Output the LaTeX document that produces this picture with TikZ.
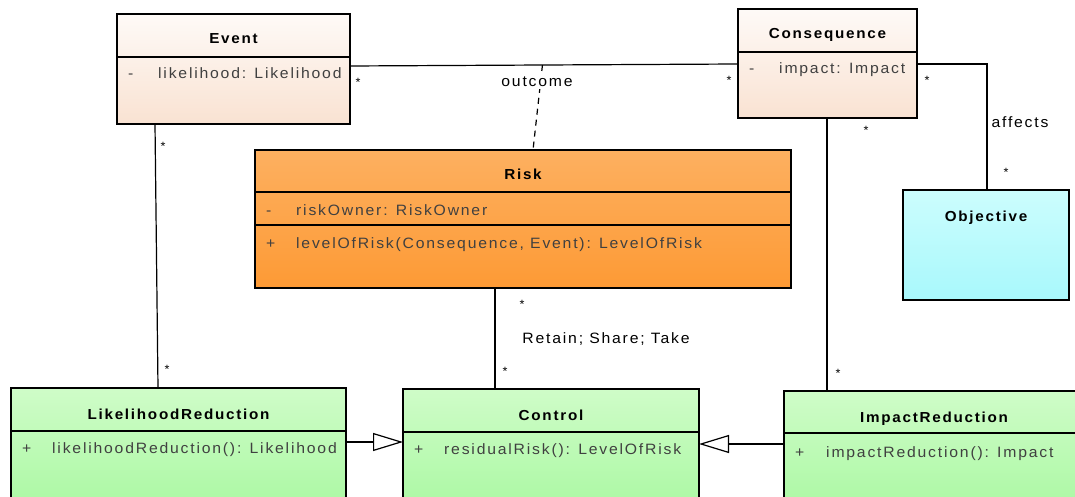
\documentclass[tikz,border=0pt]{standalone}
\usepackage{fontspec}
\setmainfont{Liberation Sans}[FakeStretch=1.05, LetterSpace=12]
\usetikzlibrary{arrows.meta,calc}

% class box fills (top / bottom of the gradient)
\definecolor{peachTop}{RGB}{254,250,247}
\definecolor{peachBot}{RGB}{249,226,210}
\definecolor{orangeTop}{RGB}{253,176,96}
\definecolor{orangeBot}{RGB}{253,154,53}
\definecolor{cyanTop}{RGB}{204,253,253}
\definecolor{cyanBot}{RGB}{168,248,252}
\definecolor{greenTop}{RGB}{207,252,200}
\definecolor{greenBot}{RGB}{168,248,160}
\definecolor{memberGray}{RGB}{64,64,64}

\begin{document}
\begin{tikzpicture}[x=1pt,y=-1pt,
  classbox/.style={draw=black, line width=1.2pt, rectangle, anchor=north west,
    inner sep=0pt, outer sep=0pt},
  peach/.style={top color=peachTop, bottom color=peachBot},
  orangefill/.style={top color=orangeTop, bottom color=orangeBot},
  cyanfill/.style={top color=cyanTop, bottom color=cyanBot},
  greenfill/.style={top color=greenTop, bottom color=greenBot},
  divider/.style={draw=black, line width=1.2pt},
  title/.style={font=\bfseries\fontsize{14.5}{16}\selectfont, anchor=base, inner sep=0pt},
  member/.style={font=\fontsize{15}{17}\selectfont, text=memberGray, anchor=base west, inner sep=0pt},
  mult/.style={font=\fontsize{12}{13}\selectfont, inner sep=0pt},
  lbl/.style={font=\fontsize{15}{17}\selectfont, inner sep=1pt},
  assoc/.style={draw=black, line width=1.2pt},
  gen/.style={draw=black, line width=1.2pt, -{Triangle[open, length=30pt, width=18pt, fill=white]}}
]
\useasboundingbox (0,0) rectangle (1075,497);
\clip (0,0) rectangle (1075,497);
\fill[white] (0,0) rectangle (1075,497);

% ---------- Event ----------
\node[classbox, peach, minimum width=233pt, minimum height=110pt] (event) at (117,14) {};
\draw[divider] ($(event.north west)+(0,43)$) -- ($(event.north east)+(0,43)$);
\node[title] (eventT) at ($(event.north)+(0,30)$) {Event};
\node[member] (eventS) at ($(event.north west)+(11,65)$) {-};
\node[member] (eventA) at ($(event.north west)+(41,65)$) {likelihood: Likelihood};

% ---------- Consequence ----------
\node[classbox, peach, minimum width=179pt, minimum height=109pt] (cons) at (738,9) {};
\draw[divider] ($(cons.north west)+(0,43)$) -- ($(cons.north east)+(0,43)$);
\node[title] (consT) at ($(cons.north)+(0,30)$) {Consequence};
\node[member] (consS) at ($(cons.north west)+(11,65)$) {-};
\node[member] (consA) at ($(cons.north west)+(41,65)$) {impact: Impact};

% ---------- Risk ----------
\node[classbox, orangefill, minimum width=536pt, minimum height=138pt] (risk) at (255,150) {};
\draw[divider] ($(risk.north west)+(0,42)$) -- ($(risk.north east)+(0,42)$);
\draw[divider] ($(risk.north west)+(0,75)$) -- ($(risk.north east)+(0,75)$);
\node[title] (riskT) at ($(risk.north)+(0,29)$) {Risk};
\node[member] (riskS) at ($(risk.north west)+(11,65)$) {-};
\node[member] (riskA) at ($(risk.north west)+(41,65)$) {riskOwner: RiskOwner};
\node[member] (riskP) at ($(risk.north west)+(11,98)$) {+};
\node[member] (riskM) at ($(risk.north west)+(41,98)$) {levelOfRisk(Consequence, Event): LevelOfRisk};

% ---------- Objective ----------
\node[classbox, cyanfill, minimum width=166pt, minimum height=110pt] (obj) at (903,190) {};
\node[title] (objT) at ($(obj.north)+(0,31)$) {Objective};

% ---------- LikelihoodReduction ----------
\node[classbox, greenfill, minimum width=335pt, minimum height=130pt] (lred) at (11,388) {};
\draw[divider] ($(lred.north west)+(0,43)$) -- ($(lred.north east)+(0,43)$);
\node[title] (lredT) at ($(lred.north)+(0,31)$) {LikelihoodReduction};
\node[member] (lredP) at ($(lred.north west)+(11,65)$) {+};
\node[member] (lredM) at ($(lred.north west)+(41,65)$) {likelihoodReduction(): Likelihood};

% ---------- Control ----------
\node[classbox, greenfill, minimum width=296pt, minimum height=130pt] (ctrl) at (403,389) {};
\draw[divider] ($(ctrl.north west)+(0,43)$) -- ($(ctrl.north east)+(0,43)$);
\node[title] (ctrlT) at ($(ctrl.north)+(0,31)$) {Control};
\node[member] (ctrlP) at ($(ctrl.north west)+(11,65)$) {+};
\node[member] (ctrlM) at ($(ctrl.north west)+(41,65)$) {residualRisk(): LevelOfRisk};

% ---------- ImpactReduction ----------
\node[classbox, greenfill, minimum width=300pt, minimum height=130pt] (ired) at (784,391) {};
\draw[divider] ($(ired.north west)+(0,42)$) -- ($(ired.north west)+(300,42)$);
\node[title] (iredT) at ($(ired.north west)+(150,31)$) {ImpactReduction};
\node[member] (iredP) at ($(ired.north west)+(11,66)$) {+};
\node[member] (iredM) at ($(ired.north west)+(42,66)$) {impactReduction(): Impact};

% ---------- Associations ----------
% Event -- Consequence, with the Risk association class hanging off it
\draw[assoc] ($(event.north east)+(0,52)$) -- coordinate[pos=0.496] (outc) ($(cons.north west)+(0,55)$);
\node[mult] (m1) at ($(event.north east)+(8,68)$) {*};
\node[mult] (m2) at ($(cons.north west)+(-9,71)$) {*};
\draw[assoc, dash pattern=on 6pt off 5pt] (outc) -- ($(risk.north)+(10,0)$);
\node[lbl, fill=white, inner sep=2pt] (outcL) at (537,82) {outcome};

% Consequence -- Objective
\draw[assoc] ($(cons.north east)+(0,55)$) -| ($(obj.north west)+(84,0)$);
\node[mult] (m3) at ($(cons.north east)+(10,71)$) {*};
\node[lbl] (affL) at (1020,122) {affects};
\node[mult] (m4) at ($(obj.north west)+(103,-18)$) {*};

% Event -- LikelihoodReduction
\draw[assoc] ($(event.south west)+(38,0)$) -- ($(lred.north west)+(147,0)$);
\node[mult] (m5) at ($(event.south west)+(46,22)$) {*};
\node[mult] (m6) at ($(lred.north west)+(156,-19)$) {*};

% Risk -- Control
\draw[assoc] ($(risk.south west)+(240,0)$) -- ($(ctrl.north west)+(92,0)$);
\node[mult] (m7) at ($(risk.south west)+(267,16)$) {*};
\node[lbl] (rstL) at (606,339) {Retain; Share; Take};
\node[mult] (m8) at ($(ctrl.north west)+(102,-18)$) {*};

% Consequence -- ImpactReduction
\draw[assoc] ($(cons.south west)+(89,0)$) -- ($(ired.north west)+(43,0)$);
\node[mult] (m9) at ($(cons.south west)+(128,12)$) {*};
\node[mult] (m10) at ($(ired.north west)+(54,-18)$) {*};

% ---------- Generalizations ----------
\draw[gen] ($(lred.north east)+(0,54)$) -- ($(ctrl.north west)+(0,53)$);
\draw[gen] ($(ired.north west)+(0,53)$) -- ($(ctrl.north east)+(0,55)$);
\end{tikzpicture}
\end{document}
